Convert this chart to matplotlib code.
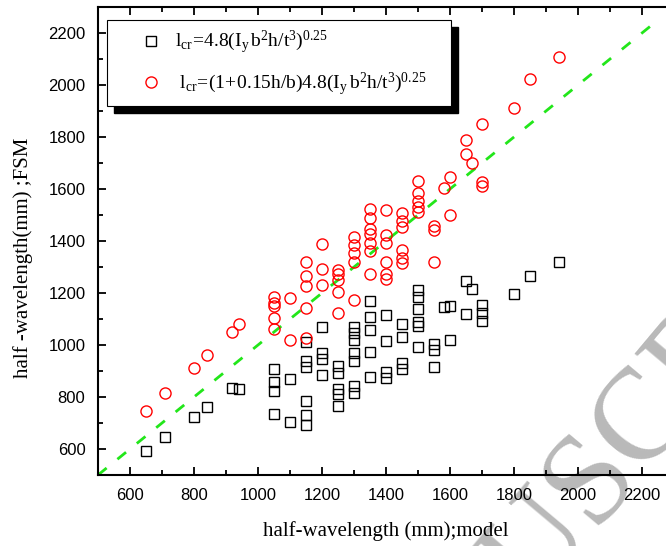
import matplotlib
matplotlib.use('Agg')
import matplotlib.pyplot as plt
from matplotlib.patches import Rectangle

# data (mm)
sq_x = [650, 710, 800, 840, 920, 940,
        1050, 1050, 1050, 1050, 1100, 1100,
        1150, 1150, 1150, 1150, 1150, 1150,
        1200, 1200, 1200, 1200,
        1250, 1250, 1250, 1250, 1250,
        1300, 1300, 1300, 1300, 1300, 1300, 1300,
        1350, 1350, 1350, 1350, 1350,
        1400, 1400, 1400, 1400,
        1450, 1450, 1450, 1450,
        1500, 1500, 1500, 1500, 1500, 1500,
        1550, 1550, 1550, 1580, 1600, 1600,
        1650, 1650, 1670, 1700, 1700, 1700,
        1800, 1850, 1940]
sq_y = [592, 647, 722, 763, 833, 830,
        906, 857, 822, 733, 869, 704,
        1010, 940, 915, 786, 732, 694,
        1068, 968, 946, 886,
        920, 892, 829, 812, 766,
        1069, 1047, 1021, 970, 940, 842, 816,
        1170, 1107, 1058, 975, 878,
        1117, 1015, 896, 873,
        1082, 1031, 929, 906,
        1210, 1185, 1140, 1088, 1074, 994,
        1005, 979, 916, 1147, 1150, 1020,
        1248, 1118, 1216, 1154, 1123, 1094,
        1195, 1264, 1318]

ci_x = [650, 710, 800, 840, 920, 940,
        1050, 1050, 1050, 1050, 1050, 1100, 1100,
        1150, 1150, 1150, 1150, 1150,
        1200, 1200, 1200,
        1250, 1250, 1250, 1250, 1250,
        1300, 1300, 1300, 1300, 1300,
        1350, 1350, 1350, 1350, 1350, 1350, 1350,
        1400, 1400, 1400, 1400, 1400, 1400,
        1450, 1450, 1450, 1450, 1450, 1450,
        1500, 1500, 1500, 1500, 1500,
        1550, 1550, 1550, 1580, 1600, 1600,
        1650, 1650, 1670, 1700, 1700, 1700,
        1800, 1850, 1940]
ci_y = [747, 817, 912, 961, 1051, 1080,
        1183, 1160, 1150, 1102, 1062, 1182, 1020,
        1318, 1264, 1226, 1142, 1027,
        1388, 1292, 1231,
        1288, 1273, 1250, 1203, 1122,
        1415, 1385, 1355, 1318, 1172,
        1522, 1487, 1445, 1426, 1394, 1362, 1273,
        1520, 1422, 1392, 1318, 1272, 1253,
        1506, 1476, 1453, 1365, 1333, 1314,
        1631, 1586, 1552, 1529, 1513,
        1458, 1442, 1321, 1603, 1645, 1500,
        1787, 1736, 1699, 1849, 1628, 1610,
        1910, 2022, 2107]

line_xy = [500, 2250]

label_1 = r'$\mathrm{l_{cr}\!=\!4.8(I_y\,b^2h/t^3)^{0.25}}$'
label_2 = r'$\mathrm{\ l_{cr}\!=\!(1\!+\!0.15h/b)4.8(I_y\,b^2h/t^3)^{0.25}}$'

plt.rcParams['mathtext.fontset'] = 'custom'
plt.rcParams['mathtext.rm'] = 'Liberation Serif'
plt.rcParams['mathtext.it'] = 'Liberation Serif:italic'

fig = plt.figure(figsize=(6.66, 5.46), dpi=100)
ax = fig.add_axes([98 / 666, 71 / 546, 576 / 666, 468 / 546])
ax.patch.set_visible(False)

# watermark behind the axes
fig.text(0.878, 0.095, 'MANUSCRIPT', rotation=50, fontsize=94, color='#b9b9b9',
         family='Liberation Serif', ha='center', va='center',
         rotation_mode='anchor', zorder=-1)

ax.plot(line_xy, line_xy, color='#22e61a', lw=2, dashes=(4, 5), zorder=1)
ax.plot(sq_x, sq_y, 's', ms=7, mfc='none', mec='black', mew=1.0,
        label=label_1, zorder=2)
ax.plot(ci_x, ci_y, 'o', ms=8, mfc='none', mec='red', mew=1.0,
        label=label_2, zorder=3)

ax.set_xlim(500, 2300)
ax.set_ylim(500, 2300)
ax.set_xticks(range(600, 2300, 200))
ax.set_yticks(range(600, 2300, 200))
ax.set_xticks(range(500, 2300, 100), minor=True)
ax.set_yticks(range(500, 2300, 100), minor=True)
ax.tick_params(which='both', direction='in', top=True, right=True, width=1.3)
ax.tick_params(which='major', length=6, labelsize=12, pad=9)
ax.tick_params(which='minor', length=3.5)
for t in ax.get_xticklabels() + ax.get_yticklabels():
    t.set_family('Liberation Sans')
for s in ax.spines.values():
    s.set_linewidth(1.5)

ax.set_xlabel('half-wavelength (mm);model', fontsize=15, family='Liberation Serif')
ax.set_ylabel('half -wavelength(mm) ;FSM', fontsize=15, family='Liberation Serif')
ax.xaxis.set_label_coords(0.5, -0.098)
ax.yaxis.set_label_coords(-0.113, 0.464)

leg = ax.legend(loc='upper left', bbox_to_anchor=(0.0156, 0.795, 0.597, 0.177),
                mode='expand', borderaxespad=0, fontsize=14, labelspacing=0.75,
                handletextpad=-0.64, fancybox=False, framealpha=1, edgecolor='black',
                handlelength=3.67, borderpad=0.45)
leg.get_frame().set_linewidth(0.8)
leg.set_zorder(5)

# solid black drop shadow of the legend box
fig.canvas.draw()
bb = leg.get_window_extent().transformed(ax.transAxes.inverted())
dx, dy = 7 / 576, 7 / 468
ax.add_patch(Rectangle((bb.x0 + dx, bb.y0 - dy), bb.width, bb.height,
                       transform=ax.transAxes, color='black', zorder=4,
                       clip_on=False))

fig.savefig('out.png', dpi=100)
